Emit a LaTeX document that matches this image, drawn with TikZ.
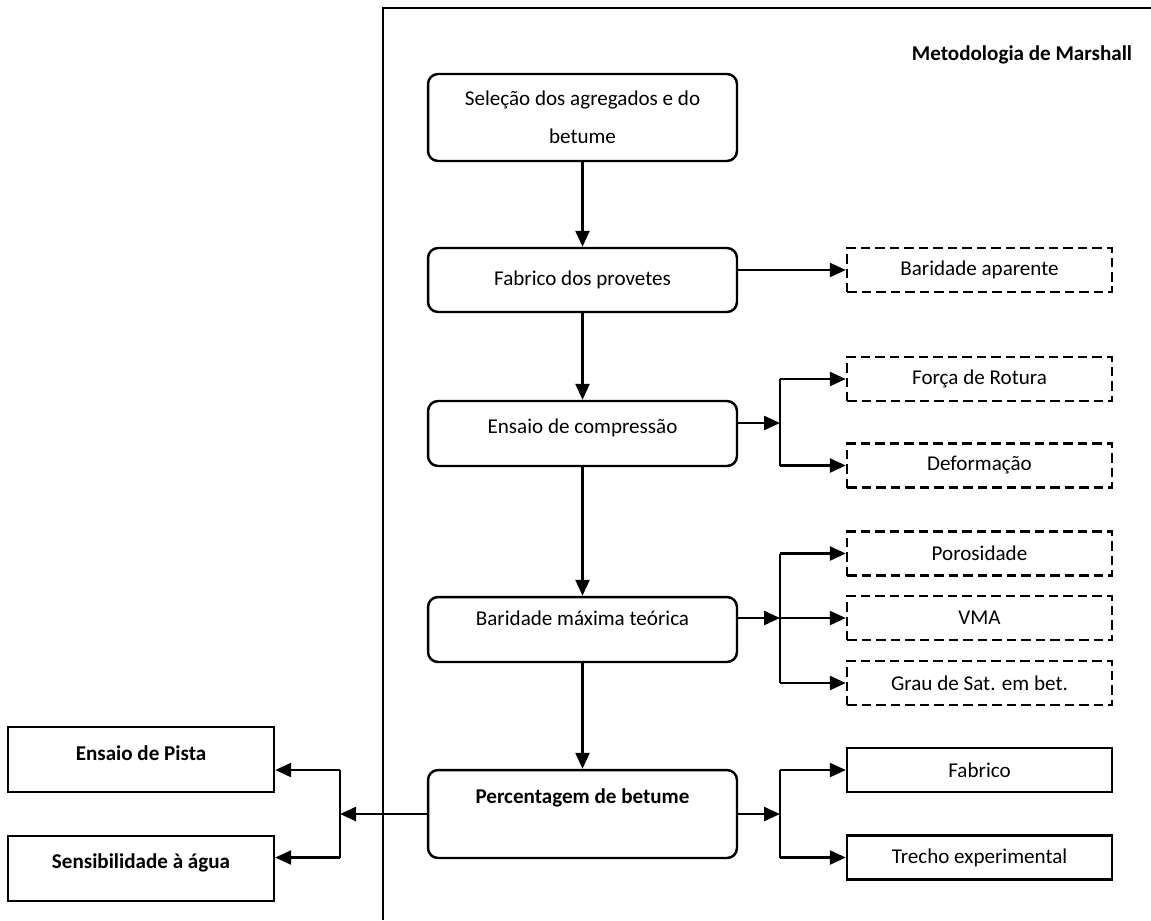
\documentclass[tikz,border=0pt]{standalone}
\usepackage{fontspec}
\setmainfont{Carlito}
\usetikzlibrary{arrows.meta}
\usetikzlibrary{calc}

\tikzset{
 etapa/.style={draw, line width=1.4pt, rounded corners=0.2cm, minimum width=6.18cm, inner sep=0pt, align=center, font=\fontsize{12}{14.5}\selectfont},
 result/.style={draw, line width=1.4pt, dash pattern=on 0.19cm off 0.1cm, minimum width=5.3cm, minimum height=0.88cm, inner sep=0pt, font=\fontsize{12}{14.5}\selectfont},
 final/.style={draw, line width=1.4pt, minimum width=5.3cm, minimum height=0.88cm, inner sep=0pt, font=\fontsize{12}{14.5}\selectfont},
 ensaio/.style={draw, line width=1.4pt, minimum width=5.32cm, minimum height=1.3cm, inner sep=0pt, font=\bfseries\fontsize{12}{14.5}\selectfont},
}

\begin{document}
\begin{tikzpicture}[x=0.02cm, y=-0.02cm, line width=1.4pt, >={Triangle[length=0.32cm,width=0.28cm]}]
\useasboundingbox (0,0) rectangle (1151,920);
% moldura
\draw (383,920) -- (383,8) -- (1151,8);
\node[font=\bfseries\fontsize{12}{14.5}\selectfont] (titulo) at (1022,55) {Metodologia de Marshall};

% etapas
\node[etapa, minimum height=1.74cm] (sel) at (582.5,117.5) {Seleção dos agregados e do\\[7pt] betume};
\node[etapa, minimum height=1.28cm] (fab) at (582.5,280) {Fabrico dos provetes};
\node[etapa, minimum height=1.3cm, text depth=0.3cm] (ens) at (582.5,433.5) {Ensaio de compressão};
\node[etapa, minimum height=1.3cm, text depth=0.45cm] (bmt) at (582.5,629.5) {Baridade máxima teórica};
\node[etapa, minimum height=1.76cm, text depth=0.7cm, font=\bfseries\fontsize{12}{14.5}\selectfont] (perc) at (582.5,814) {Percentagem de betume};

% resultados
\foreach \n/\y/\t in {bap/270/Baridade aparente, frot/379/Força de Rotura, defo/465.5/Deformação, poro/553.5/Porosidade, vma/618/VMA, grau/683/Grau de Sat. em bet.} {
 \node[result] (\n) at (979.5,\y) {\t};
}
\node[final] (fabr) at (979.5,770) {Fabrico};
\node[final] (trecho) at (979.5,857.5) {Trecho experimental};
\node[ensaio, text depth=0.25cm] (pista) at (141,759.5) {Ensaio de Pista};
\node[ensaio, text depth=0.3cm] (agua) at (141,868.5) {Sensibilidade à água};

% ligacoes
\draw[->] (sel) -- (fab);
\draw[->] (fab) -- (ens);
\draw[->] (ens) -- (bmt);
\draw[->] (bmt) -- (perc);
\draw[->] (fab.east |- bap) -- (bap);

\coordinate (jc) at (780,423);
\coordinate (jb) at (780,618);
\coordinate (jp) at (780,814);
\coordinate (jl) at (340,814);

\draw[->] (ens.east |- jc) -- (jc);
\draw[->] (jc |- frot) -- (frot);
\draw (jc |- frot) -- (jc |- defo);
\draw[->] (jc |- defo) -- (defo);

\draw[->] (bmt.east |- jb) -- (jb);
\draw[->] (jb |- poro) -- (poro);
\draw (jb |- poro) -- (jb |- grau);
\draw[->] (jb) -- (vma);
\draw[->] (jb |- grau) -- (grau);

\draw[->] (perc.east |- jp) -- (jp);
\draw[->] (jp |- fabr) -- (fabr);
\draw (jp |- fabr) -- (jp |- trecho);
\draw[->] (jp |- trecho) -- (trecho);

\draw[->] (perc.west |- jl) -- (jl);
\draw[->] (jl |- fabr) -- (pista.east |- fabr);
\draw (jl |- fabr) -- (jl |- trecho);
\draw[->] (jl |- trecho) -- (agua.east |- trecho);
\end{tikzpicture}
\end{document}
